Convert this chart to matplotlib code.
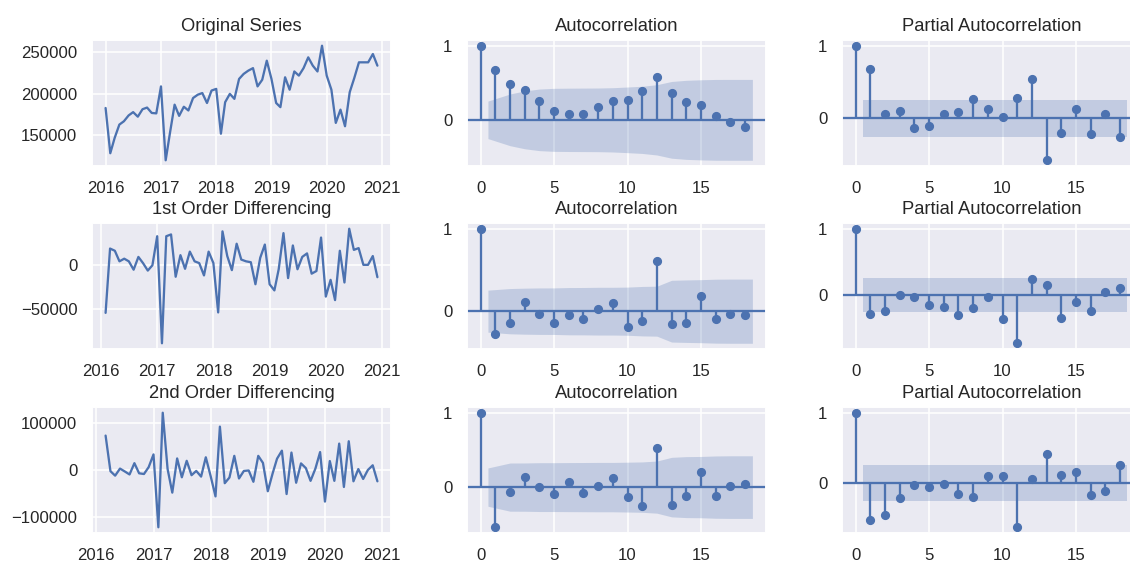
import numpy as np
import pandas as pd
import matplotlib
matplotlib.use("Agg")
import matplotlib.pyplot as plt
import matplotlib.ticker as mticker
import matplotlib.dates as mdates
import seaborn as sns

# ---------------- data ----------------
dates = pd.date_range("2016-01-01", periods=60, freq="MS")
sales = [183000, 128500, 147000, 163000, 167000, 174000, 178000, 172500, 181500, 183500,
         177000, 176500, 209000, 120000, 152500, 187000, 173500, 184500, 180000, 195000,
         199000, 201000, 189000, 204000, 206000, 152000, 190000, 200000, 194000, 218000,
         224000, 228000, 231000, 209000, 217000, 240000, 218000, 189000, 184000, 220000,
         205000, 227000, 222000, 231000, 244000, 234000, 227000, 258000, 222000, 205000,
         165000, 181000, 161000, 202000, 219000, 238000, 238000, 238000, 248000, 234000]

lags = list(range(19))
acf_orig = [1.0, 0.67, 0.49, 0.40, 0.25, 0.12, 0.085, 0.085, 0.17, 0.25,
            0.27, 0.39, 0.58, 0.36, 0.24, 0.20, 0.05, -0.035, -0.09]
pacf_orig = [1.0, 0.675, 0.063, 0.10, -0.13, -0.10, 0.054, 0.086, 0.266, 0.13,
             0.014, 0.275, 0.54, -0.577, -0.20, 0.135, -0.216, 0.054, -0.25]
acf_d1 = [1.0, -0.28, -0.14, 0.11, -0.04, -0.14, -0.05, -0.10, 0.03, 0.10,
          -0.19, -0.12, 0.61, -0.16, -0.14, 0.18, -0.09, -0.03, -0.05]
pacf_d1 = [1.0, -0.28, -0.24, 0.005, -0.02, -0.15, -0.17, -0.29, -0.19, -0.03,
           -0.35, -0.72, 0.25, 0.16, -0.34, -0.10, -0.23, 0.054, 0.11]
acf_d2 = [1.0, -0.54, -0.06, 0.135, -0.005, -0.09, 0.065, -0.075, 0.01, 0.125,
          -0.135, -0.25, 0.53, -0.245, -0.115, 0.205, -0.12, 0.01, 0.04]
pacf_d2 = [1.0, -0.53, -0.45, -0.22, -0.03, -0.056, -0.01, -0.15, -0.195, 0.10,
           0.10, -0.63, 0.06, 0.41, 0.116, 0.153, -0.177, -0.116, 0.26]

row_titles = ["Original Series", "1st Order Differencing", "2nd Order Differencing"]

# ---------------- style ----------------
sns.set_theme(style="darkgrid")
plt.rcParams["font.family"] = ["Liberation Sans", "DejaVu Sans"]
BLUE = "#4C72B0"

W, H = 1130, 565
fig = plt.figure(figsize=(W / 110, H / 110), dpi=110)


def add_ax(left, top, w, h):
    return fig.add_axes([left / W, 1 - (top + h) / H, w / W, h / H])


col_left = [92, 467, 842]
row_top = [40, 223, 407]
aw, ah = 299, 126

s = pd.Series(sales, index=dates)
series_list = [s, s.diff().dropna(), s.diff().diff().dropna()]
acfs = [acf_orig, acf_d1, acf_d2]
pacfs = [pacf_orig, pacf_d1, pacf_d2]
ylocs = [50000, 50000, 100000]


def corr_plot(ax, vals, nobs, title, kind):
    vals = np.asarray(vals, dtype=float)
    lg = np.asarray(lags, dtype=float)
    if kind == "acf":
        var = np.ones(len(vals)) / nobs
        var[0] = 0
        var[2:] *= 1 + 2 * np.cumsum(vals[1:-1] ** 2)
        band = 1.96 * np.sqrt(var)
    else:
        band = np.full(len(vals), 1.96 / np.sqrt(nobs))
    bl = lg[1:].copy()
    bl[0] -= 0.5
    bl[-1] += 0.5
    ax.vlines(lg, [0], vals, color=BLUE, lw=1.5)
    ax.axhline(0, color=BLUE, lw=1.5)
    ax.plot(lg, vals, "o", color=BLUE, markersize=5)
    ax.fill_between(bl, -band[1:], band[1:], color=BLUE, alpha=0.25, lw=0)
    ax.set_title(title, fontsize=12, pad=6)
    ax.yaxis.set_major_locator(mticker.MultipleLocator(1))
    ax.xaxis.set_major_locator(mticker.MultipleLocator(5))
    ax.tick_params(labelsize=11)


for r in range(3):
    ax = add_ax(col_left[0], row_top[r], aw, ah)
    ser = series_list[r]
    ax.plot(ser.index, ser.values, color=BLUE, lw=1.5)
    ax.set_title(row_titles[r], fontsize=12, pad=6)
    ax.yaxis.set_major_locator(mticker.MultipleLocator(ylocs[r]))
    ax.tick_params(labelsize=11)
    ax.xaxis.set_major_locator(mdates.YearLocator())
    ax.xaxis.set_major_formatter(mdates.DateFormatter("%Y"))

    ax2 = add_ax(col_left[1], row_top[r], aw, ah)
    corr_plot(ax2, acfs[r], len(ser), "Autocorrelation", "acf")
    ax3 = add_ax(col_left[2], row_top[r], aw, ah)
    corr_plot(ax3, pacfs[r], len(ser), "Partial Autocorrelation", "pacf")

fig.savefig("out.png", dpi=110)
